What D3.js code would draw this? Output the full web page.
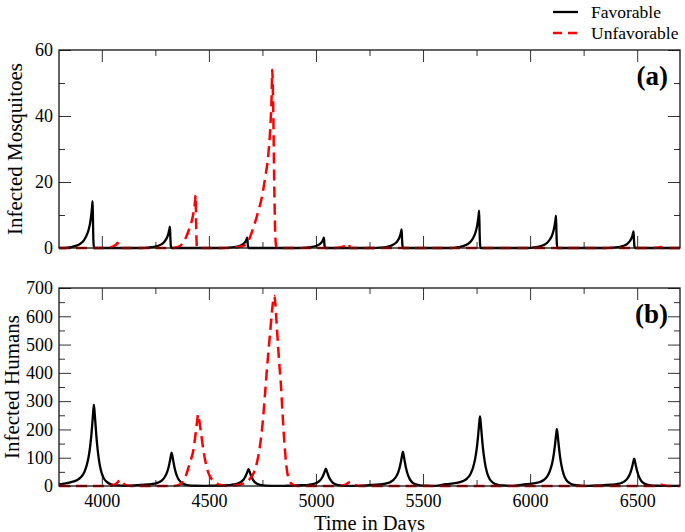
<!DOCTYPE html>
<html>
<head>
<meta charset="utf-8">
<script src="https://cdn.jsdelivr.net/npm/d3@7"></script>
<style>
  html, body { margin: 0; padding: 0; background: #fff; }
  svg { display: block; }
  svg text { font-family: "Liberation Serif", "Times New Roman", serif !important; }
</style>
</head>
<body>
<svg id="chart" width="685" height="532"></svg>
<script>
// ---------------- DATA ----------------
const seriesNames = ["Favorable", "Unfavorable"];
const xTicksMajor = [4000, 4500, 5000, 5500, 6000, 6500];
const xTicksMinor = [4250, 4750, 5250, 5750, 6250];
const yTicksMosqMajor = [0, 20, 40, 60];
const yTicksMosqMinor = [10, 30, 50];
const yTicksHumMajor = [0, 100, 200, 300, 400, 500, 600, 700];
const yTicksHumMinor = [50, 150, 250, 350, 450, 550, 650];

// Infected mosquitoes, favorable  [day, value]
const mosqFavorable = [
  [3800,0],[3827,0],[3857,0.28],[3882,0.71],[3902,1.42],[3917,2.41],[3929,3.83],[3939,5.68],[3947,8.24],[3952,10.8],[3955,12.8],[3957,14.2],[3959,7.1],[3961,1.7],[3964,0],
  [4188,0],[4218,0.13],[4243,0.33],[4263,0.65],[4278,1.1],[4290,1.76],[4300,2.6],[4308,3.77],[4313,4.94],[4316,5.85],[4318,6.5],[4320,3.25],[4322,0.78],[4325,0],
  [4549,0],[4579,0.06],[4604,0.16],[4624,0.31],[4639,0.53],[4651,0.84],[4661,1.24],[4669,1.8],[4674,2.36],[4677,2.79],[4679,3.1],[4681,1.55],[4683,0.37],[4686,0],
  [4907,0],[4937,0.06],[4962,0.16],[4982,0.31],[4997,0.53],[5009,0.84],[5019,1.24],[5027,1.8],[5032,2.36],[5035,2.79],[5037,3.1],[5039,1.55],[5041,0.37],[5044,0],
  [5270,0],[5300,0.11],[5325,0.28],[5345,0.56],[5360,0.95],[5372,1.51],[5382,2.24],[5390,3.25],[5395,4.26],[5398,5.04],[5400,5.6],[5402,2.8],[5404,0.67],[5407,0],
  [5632,0],[5662,0.23],[5687,0.57],[5707,1.13],[5722,1.92],[5734,3.05],[5744,4.52],[5752,6.55],[5757,8.59],[5760,10.2],[5762,11.3],[5764,5.65],[5766,1.36],[5769,0],
  [5991,0],[6021,0.2],[6046,0.49],[6066,0.98],[6081,1.67],[6093,2.65],[6103,3.92],[6111,5.68],[6116,7.45],[6119,8.82],[6121,9.8],[6123,4.9],[6125,1.18],[6128,0],
  [6353,0],[6383,0.1],[6408,0.25],[6428,0.5],[6443,0.85],[6455,1.35],[6465,2.0],[6473,2.9],[6478,3.8],[6481,4.5],[6483,5.0],[6485,2.5],[6487,0.6],[6490,0],
  [6700,0]
];

// Infected mosquitoes, unfavorable
const mosqUnfavorable = [
  [3800,0],[4000,0],[4030,0.1],[4050,0.4],[4062,0.8],[4069,1.2],[4074,1.6],[4077,0.6],[4080,0],
  [4330,0],[4355,0.3],[4370,0.9],[4380,1.7],[4395,3.5],[4411,6.3],[4420,8.2],[4427,10.3],[4433,12.8],[4436,14.6],[4438,16],[4440,9],[4442,2.5],[4445,0],
  [4600,0],[4640,0.3],[4665,0.8],[4685,2.2],[4707,6],[4730,11],[4746,15],[4762,21],[4777,28],[4788,38],[4793,46],[4796,54],[4798,50],[4801,40],[4805,20],[4809,6],[4813,1],[4818,0],
  [5090,0],[5115,0.2],[5135,0.6],[5148,1.0],[5154,1.3],[5157,0.5],[5160,0],
  [6570,0],[6600,0.15],[6612,0.3],[6616,0],
  [6700,0]
];

// Infected humans, favorable
const humFavorable = [
  [3800,6],[3853,12.9],[3883,20.1],[3903,31.6],[3918,48.8],[3931,77.5],[3941,114.8],[3949,163.6],[3955,215.3],[3960,264],[3963,287],[3966,264],[3971,212.4],[3977,155],[3985,100.5],[3995,57.4],[4008,28.7],[4023,14.4],[4043,5.7],[4073,2.3],[4113,0.9],
  [4166,3.0],[4216,5.3],[4246,8.3],[4266,13.0],[4281,20.1],[4294,31.9],[4304,47.2],[4312,67.3],[4318,88.5],[4323,108.6],[4326,118],[4329,108.6],[4334,87.3],[4340,63.7],[4348,41.3],[4358,23.6],[4371,11.8],[4386,5.9],[4406,2.4],[4436,0.9],[4476,0.4],
  [4525,1.5],[4575,2.7],[4605,4.2],[4625,6.6],[4640,10.2],[4653,16.2],[4663,24],[4671,34.2],[4677,45],[4682,55.2],[4685,60],[4688,55.2],[4693,44.4],[4699,32.4],[4707,21],[4717,12],[4730,6],[4745,3],[4765,1.2],[4795,0.5],[4835,0.2],
  [4886,1.5],[4936,2.7],[4966,4.3],[4986,6.7],[5001,10.4],[5014,16.5],[5024,24.4],[5032,34.8],[5038,45.8],[5043,56.1],[5046,61],[5049,56.1],[5054,45.1],[5060,32.9],[5068,21.4],[5078,12.2],[5091,6.1],[5106,3.1],[5126,1.2],[5156,0.5],[5196,0.2],
  [5246,3.0],[5296,5.4],[5326,8.5],[5346,13.3],[5361,20.6],[5374,32.7],[5384,48.4],[5392,69],[5398,90.8],[5403,111.3],[5406,121],[5409,111.3],[5414,89.5],[5420,65.3],[5428,42.4],[5438,24.2],[5451,12.1],[5466,6.1],[5486,2.4],[5516,1.0],[5556,0.4],
  [5606,6.2],[5656,11.1],[5686,17.2],[5706,27.1],[5721,41.8],[5734,66.4],[5744,98.4],[5752,140.2],[5758,184.5],[5763,226.3],[5766,246],[5769,226.3],[5774,182],[5780,132.8],[5788,86.1],[5798,49.2],[5811,24.6],[5826,12.3],[5846,4.9],[5876,2.0],[5916,0.7],
  [5965,5.0],[6015,9.0],[6045,14.1],[6065,22.1],[6080,34.2],[6093,54.3],[6103,80.4],[6111,114.6],[6117,150.8],[6122,184.9],[6125,201],[6128,184.9],[6133,148.7],[6139,108.5],[6147,70.4],[6157,40.2],[6170,20.1],[6185,10.1],[6205,4.0],[6235,1.6],[6275,0.6],
  [6326,2.4],[6376,4.4],[6406,6.8],[6426,10.7],[6441,16.5],[6454,26.2],[6464,38.8],[6472,55.3],[6478,72.8],[6483,89.2],[6486,97],[6489,89.2],[6494,71.8],[6500,52.4],[6508,34],[6518,19.4],[6531,9.7],[6546,4.9],[6566,1.9],[6596,0.8],[6636,0.3],[6700,0.1]
];

// Infected humans, unfavorable
const humUnfavorable = [
  [3800,0],[4020,0],[4050,2],[4065,7],[4075,14],[4082,20],[4087,22],[4092,19],[4100,10],[4110,4],[4125,1],[4145,0],
  [4330,0],[4360,4],[4378,16],[4395,42],[4412,85],[4428,128],[4439,192],[4446,236],[4449,253],[4453,240],[4462,195],[4474,128],[4487,75],[4500,42],[4515,22],[4533,10],[4558,3],[4595,0],
  [4620,2],[4665,10],[4690,24],[4710,48],[4725,85],[4740,150],[4752,230],[4763,335],[4774,440],[4785,534],[4795,620],[4801,660],[4805,672],[4809,655],[4814,600],[4820,530],[4828,440],[4837,350],[4844,255],[4851,170],[4858,100],[4866,48],[4877,18],[4892,5],[4915,0],
  [5110,0],[5130,3],[5145,8],[5155,13],[5162,15],[5170,12],[5180,5],[5195,1],[5210,0],
  [6570,0],[6595,1.5],[6610,3.5],[6615,4],[6622,3],[6635,1],[6650,0],
  [6700,0]
];

// ---------------- DRAWING ----------------
const svg = d3.select("#chart");
const L = 59, R = 680;
const panels = [
  { top: 50, bottom: 248, domain: [0, 60], major: yTicksMosqMajor, minor: yTicksMosqMinor,
    fav: mosqFavorable, unf: mosqUnfavorable, title: "Infected Mosquitoes", tag: "(a)",
    titleX: 22, showX: false },
  { top: 288, bottom: 486, domain: [0, 700], major: yTicksHumMajor, minor: yTicksHumMinor,
    fav: humFavorable, unf: humUnfavorable, title: "Infected Humans", tag: "(b)",
    titleX: 19, showX: true }
];

const x = d3.scaleLinear().domain([3800, 6700]).range([L, R]);

panels.forEach((p, i) => {
  const y = d3.scaleLinear().domain(p.domain).range([p.bottom, p.top]);
  const g = svg.append("g");

  const clipId = "clip" + i;
  svg.append("clipPath").attr("id", clipId)
    .append("rect").attr("x", L).attr("y", p.top - 2).attr("width", R - L).attr("height", p.bottom - p.top + 4);

  const styleAxis = (sel) => {
    sel.attr("font-family", null).attr("font-size", null);
    sel.select(".domain").remove();
    sel.selectAll(".tick line").attr("stroke", "#333").attr("stroke-width", 1);
  };

  // ticks: bottom
  g.append("g").attr("transform", `translate(0,${p.bottom})`)
    .call(d3.axisBottom(x).tickValues(xTicksMajor).tickSizeInner(-12).tickSizeOuter(0).tickPadding(8)
      .tickFormat(p.showX ? d3.format("d") : () => ""))
    .call(styleAxis)
    .call(s => s.selectAll(".tick text").style("font-size", "18px").attr("fill", "#000"));
  g.append("g").attr("transform", `translate(0,${p.bottom})`)
    .call(d3.axisBottom(x).tickValues(xTicksMinor).tickSizeInner(-6).tickSizeOuter(0).tickFormat(() => ""))
    .call(styleAxis);
  // ticks: top
  g.append("g").attr("transform", `translate(0,${p.top})`)
    .call(d3.axisTop(x).tickValues(xTicksMajor).tickSizeInner(-12).tickSizeOuter(0).tickFormat(() => ""))
    .call(styleAxis);
  g.append("g").attr("transform", `translate(0,${p.top})`)
    .call(d3.axisTop(x).tickValues(xTicksMinor).tickSizeInner(-6).tickSizeOuter(0).tickFormat(() => ""))
    .call(styleAxis);
  // ticks: left
  g.append("g").attr("transform", `translate(${L},0)`)
    .call(d3.axisLeft(y).tickValues(p.major).tickSizeInner(-12).tickSizeOuter(0).tickPadding(6).tickFormat(d3.format("d")))
    .call(styleAxis)
    .call(s => s.selectAll(".tick text").style("font-size", "18px").attr("fill", "#000").attr("x", -6));
  g.append("g").attr("transform", `translate(${L},0)`)
    .call(d3.axisLeft(y).tickValues(p.minor).tickSizeInner(-6).tickSizeOuter(0).tickFormat(() => ""))
    .call(styleAxis);
  // ticks: right
  g.append("g").attr("transform", `translate(${R},0)`)
    .call(d3.axisRight(y).tickValues(p.major).tickSizeInner(-12).tickSizeOuter(0).tickFormat(() => ""))
    .call(styleAxis);
  g.append("g").attr("transform", `translate(${R},0)`)
    .call(d3.axisRight(y).tickValues(p.minor).tickSizeInner(-6).tickSizeOuter(0).tickFormat(() => ""))
    .call(styleAxis);

  const line = d3.line().x(d => x(d[0])).y(d => y(d[1])).curve(d3.curveMonotoneX);

  const lines = g.append("g").attr("clip-path", `url(#${clipId})`);
  lines.append("path").datum(p.fav).attr("d", line)
    .attr("fill", "none").attr("stroke", "#000").attr("stroke-width", 2.3).attr("stroke-linejoin", "round");
  lines.append("path").datum(p.unf).attr("d", line)
    .attr("fill", "none").attr("stroke", "#ff0000").attr("stroke-width", 2.5)
    .attr("stroke-dasharray", "11,6");

  // frame
  g.append("rect").attr("x", L).attr("y", p.top).attr("width", R - L).attr("height", p.bottom - p.top)
    .attr("fill", "none").attr("stroke", "#111").attr("stroke-width", 1.3);

  // y title
  g.append("text")
    .attr("transform", `translate(${p.titleX},${(p.top + p.bottom) / 2}) rotate(-90)`)
    .attr("text-anchor", "middle").style("font-size", "21px").attr("fill", "#000")
    .text(p.title);

  // panel tag
  g.append("text").attr("x", 668).attr("y", p.top + 35)
    .attr("text-anchor", "end").style("font-size", "27px").attr("font-weight", "bold").attr("fill", "#000")
    .text(p.tag);
});

// x title
svg.append("text").attr("x", (L + R) / 2).attr("y", 529.5)
  .attr("text-anchor", "middle").style("font-size", "20.5px").attr("fill", "#000")
  .text("Time in Days");

// legend
const legend = svg.append("g");
const legendY = [12, 33];
const legendStyle = [
  { stroke: "#000", dash: null, w: 2.3 },
  { stroke: "#ff0000", dash: "9,6", w: 2.5 }
];
seriesNames.forEach((name, i) => {
  legend.append("line").attr("x1", 553).attr("x2", 578).attr("y1", legendY[i]).attr("y2", legendY[i])
    .attr("stroke", legendStyle[i].stroke).attr("stroke-width", legendStyle[i].w)
    .attr("stroke-dasharray", legendStyle[i].dash);
  legend.append("text").attr("x", 591).attr("y", legendY[i]).attr("dy", "0.35em")
    .style("font-size", "17.5px").attr("fill", "#000").text(name);
});
</script>
</body>
</html>
